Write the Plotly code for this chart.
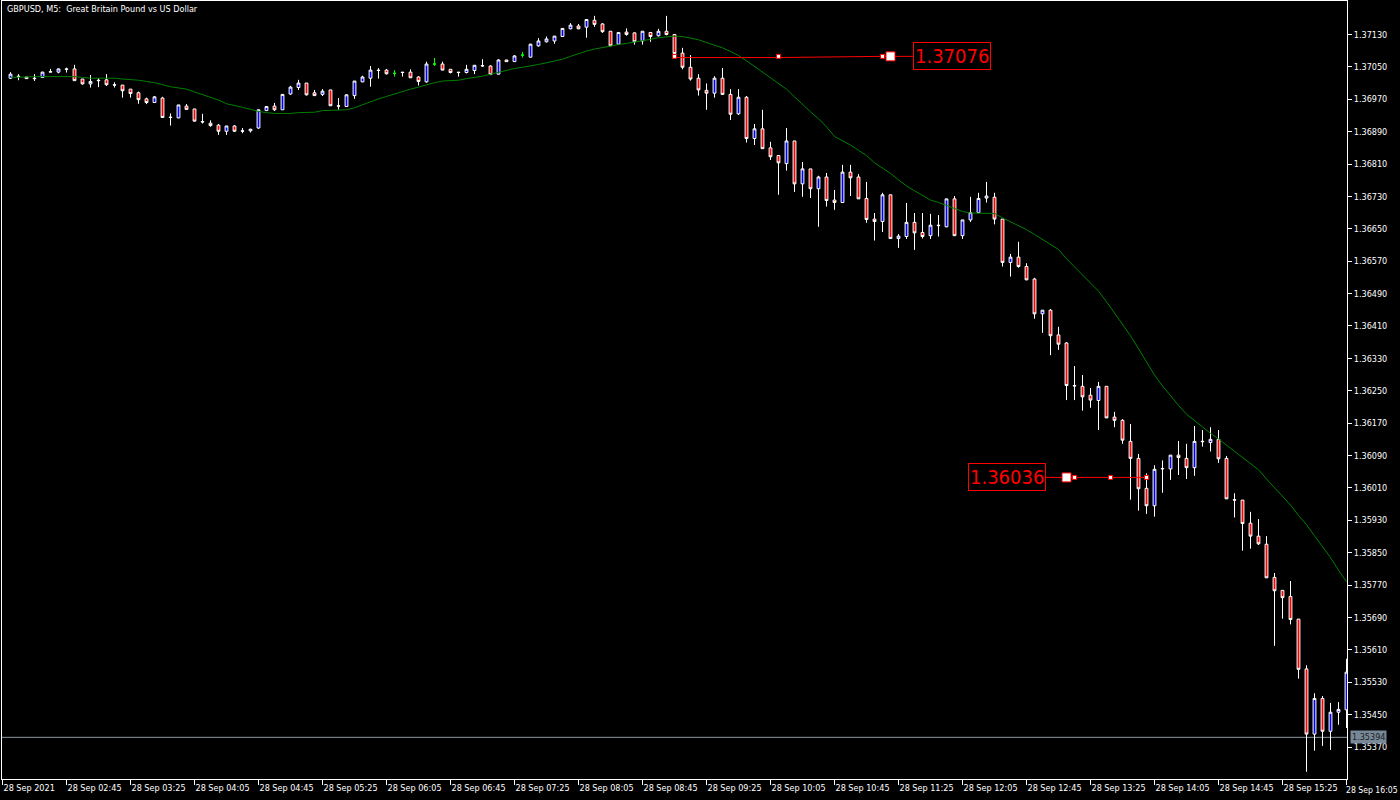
import plotly.graph_objects as go

# ---------------- data (GBPUSD M5, 28 Sep 2021, 02:10 .. 16:05) ----------------
opens = [1.37022,1.37027,1.37025,1.37022,1.37024,1.37037,1.37037,1.37045,1.37045,1.37020,
         1.37008,1.37017,1.37018,1.37006,1.37005,1.36995,1.36986,1.36971,1.36962,1.36973,
         1.36926,1.36924,1.36953,1.36946,1.36915,1.36911,1.36906,1.36891,1.36904,1.36891,
         1.36892,1.36899,1.36942,1.36953,1.36944,1.36983,1.36999,1.37010,1.36986,1.36982,
         1.36993,1.36954,1.36952,1.36979,1.37013,1.37022,1.37042,1.37042,1.37034,1.37037,
         1.37037,1.37025,1.37013,1.37057,1.37057,1.37044,1.37037,1.37036,1.37041,1.37052,
         1.37052,1.37032,1.37067,1.37063,1.37079,1.37074,1.37102,1.37112,1.37114,1.37125,
         1.37144,1.37151,1.37148,1.37165,1.37156,1.37138,1.37106,1.37136,1.37134,1.37114,
         1.37135,1.37127,1.37138,1.37130,1.37084,1.37049,1.37022,1.36992,1.36985,1.37022,
         1.36982,1.36934,1.36975,1.36873,1.36897,1.36850,1.36831,1.36811,1.36867,1.36761,
         1.36798,1.36749,1.36778,1.36721,1.36715,1.36790,1.36778,1.36725,1.36674,1.36668,
         1.36734,1.36626,1.36631,1.36666,1.36641,1.36633,1.36659,1.36655,1.36724,1.36633,
         1.36672,1.36690,1.36726,1.36728,1.36674,1.36567,1.36580,1.36557,1.36526,1.36440,
         1.36449,1.36388,1.36368,1.36263,1.36261,1.36239,1.36226,1.36261,1.36185,1.36177,
         1.36125,1.36083,1.36009,1.35966,1.36057,1.36057,1.36091,1.36083,1.36060,1.36124,
         1.36122,1.36130,1.36083,1.35981,1.35980,1.35923,1.35891,1.35871,1.35789,1.35757,
         1.35742,1.35686,1.35563,1.35402,1.35490,1.35409,1.35456,1.35462]
highs = [1.37037,1.37032,1.37025,1.37032,1.37038,1.37045,1.37046,1.37048,1.37055,1.37020,
         1.37030,1.37022,1.37032,1.37012,1.37005,1.36995,1.36989,1.36974,1.36978,1.36976,
         1.36935,1.36956,1.36958,1.36946,1.36934,1.36918,1.36909,1.36904,1.36906,1.36899,
         1.36897,1.36944,1.36953,1.36961,1.36983,1.37003,1.37018,1.37010,1.36993,1.36995,
         1.36993,1.36973,1.36982,1.37015,1.37028,1.37052,1.37047,1.37045,1.37042,1.37037,
         1.37044,1.37027,1.37063,1.37072,1.37063,1.37044,1.37037,1.37055,1.37054,1.37069,
         1.37054,1.37069,1.37067,1.37079,1.37087,1.37107,1.37121,1.37125,1.37126,1.37145,
         1.37158,1.37156,1.37167,1.37176,1.37158,1.37138,1.37135,1.37145,1.37135,1.37138,
         1.37135,1.37144,1.37176,1.37130,1.37097,1.37079,1.37032,1.37009,1.37027,1.37047,
         1.36995,1.36995,1.36978,1.36909,1.36944,1.36865,1.36832,1.36899,1.36867,1.36815,
         1.36798,1.36781,1.36788,1.36746,1.36808,1.36808,1.36785,1.36766,1.36689,1.36739,
         1.36734,1.36637,1.36714,1.36689,1.36689,1.36687,1.36684,1.36724,1.36731,1.36672,
         1.36729,1.36739,1.36766,1.36739,1.36674,1.36588,1.36618,1.36565,1.36529,1.36449,
         1.36452,1.36408,1.36370,1.36311,1.36289,1.36257,1.36272,1.36261,1.36198,1.36180,
         1.36168,1.36094,1.36046,1.36066,1.36078,1.36091,1.36126,1.36119,1.36163,1.36153,
         1.36160,1.36153,1.36089,1.35997,1.35980,1.35951,1.35933,1.35891,1.35800,1.35757,
         1.35780,1.35686,1.35572,1.35503,1.35496,1.35479,1.35481,1.35588]
lows = [1.37020,1.37017,1.37020,1.37015,1.37024,1.37037,1.37034,1.37036,1.37016,1.37006,
        1.36999,1.37000,1.37003,1.36999,1.36974,1.36974,1.36959,1.36958,1.36962,1.36924,
        1.36905,1.36923,1.36944,1.36915,1.36910,1.36902,1.36882,1.36882,1.36889,1.36886,
        1.36888,1.36897,1.36941,1.36941,1.36944,1.36981,1.36993,1.36979,1.36978,1.36978,
        1.36954,1.36944,1.36951,1.36971,1.37012,1.37001,1.37021,1.37031,1.37026,1.37026,
        1.37023,1.37004,1.37011,1.37052,1.37042,1.37034,1.37026,1.37034,1.37032,1.37050,
        1.37030,1.37031,1.37063,1.37062,1.37073,1.37073,1.37100,1.37110,1.37107,1.37125,
        1.37143,1.37143,1.37122,1.37149,1.37134,1.37101,1.37105,1.37127,1.37105,1.37105,
        1.37112,1.37125,1.37128,1.37083,1.37044,1.37016,1.36979,1.36944,1.36974,1.36982,
        1.36919,1.36931,1.36863,1.36857,1.36848,1.36820,1.36734,1.36794,1.36741,1.36729,
        1.36726,1.36655,1.36705,1.36697,1.36715,1.36731,1.36724,1.36665,1.36621,1.36642,
        1.36626,1.36603,1.36625,1.36598,1.36626,1.36625,1.36631,1.36654,1.36633,1.36625,
        1.36667,1.36690,1.36715,1.36661,1.36557,1.36532,1.36554,1.36523,1.36428,1.36393,
        1.36338,1.36351,1.36227,1.36227,1.36201,1.36208,1.36153,1.36183,1.36160,1.36119,
        1.35981,1.35954,1.35946,1.35939,1.35998,1.36030,1.36042,1.36032,1.36040,1.36112,
        1.36100,1.36072,1.35983,1.35937,1.35855,1.35860,1.35869,1.35788,1.35620,1.35687,
        1.35673,1.35539,1.35309,1.35361,1.35373,1.35363,1.35425,1.35417]
closes = [1.37032,1.37026,1.37021,1.37021,1.37037,1.37038,1.37045,1.37044,1.37016,1.37008,
          1.37014,1.37016,1.37006,1.37005,1.36991,1.36984,1.36969,1.36962,1.36976,1.36925,
          1.36925,1.36956,1.36945,1.36916,1.36914,1.36905,1.36891,1.36904,1.36891,1.36892,
          1.36896,1.36944,1.36952,1.36944,1.36982,1.37000,1.37010,1.36981,1.36979,1.36990,
          1.36954,1.36953,1.36981,1.37015,1.37025,1.37042,1.37041,1.37033,1.37034,1.37036,
          1.37023,1.37014,1.37057,1.37057,1.37042,1.37036,1.37036,1.37044,1.37054,1.37053,
          1.37031,1.37067,1.37063,1.37077,1.37079,1.37106,1.37114,1.37119,1.37126,1.37145,
          1.37153,1.37144,1.37167,1.37155,1.37137,1.37102,1.37135,1.37130,1.37112,1.37138,
          1.37125,1.37138,1.37130,1.37083,1.37049,1.37020,1.36993,1.36985,1.37022,1.36982,
          1.36933,1.36975,1.36873,1.36897,1.36848,1.36828,1.36813,1.36867,1.36761,1.36798,
          1.36749,1.36778,1.36720,1.36715,1.36790,1.36776,1.36724,1.36673,1.36668,1.36734,
          1.36626,1.36632,1.36666,1.36640,1.36631,1.36659,1.36658,1.36724,1.36633,1.36672,
          1.36690,1.36725,1.36731,1.36674,1.36567,1.36580,1.36557,1.36524,1.36440,1.36449,
          1.36386,1.36365,1.36263,1.36262,1.36235,1.36227,1.36261,1.36183,1.36177,1.36128,
          1.36083,1.36008,1.35966,1.36056,1.36058,1.36091,1.36085,1.36060,1.36125,1.36125,
          1.36130,1.36082,1.35983,1.35980,1.35922,1.35891,1.35872,1.35788,1.35756,1.35739,
          1.35685,1.35562,1.35402,1.35490,1.35409,1.35456,1.35463,1.35555]
ma_values = [1.37024,1.37024,1.37025,1.37026,1.37026,1.37026,1.37027,1.37027,1.37026,1.37024,
             1.37022,1.37022,1.37022,1.37022,1.37020,1.37019,1.37017,1.37014,1.37011,1.37006,
             1.37001,1.36998,1.36995,1.36988,1.36981,1.36975,1.36968,1.36959,1.36955,1.36950,
             1.36945,1.36940,1.36937,1.36935,1.36935,1.36935,1.36937,1.36938,1.36938,1.36942,
             1.36943,1.36943,1.36944,1.36949,1.36957,1.36964,1.36971,1.36977,1.36983,1.36990,
             1.36995,1.37000,1.37006,1.37011,1.37015,1.37016,1.37017,1.37021,1.37024,1.37027,
             1.37032,1.37037,1.37042,1.37046,1.37049,1.37052,1.37056,1.37060,1.37064,1.37069,
             1.37076,1.37083,1.37089,1.37094,1.37098,1.37102,1.37105,1.37108,1.37111,1.37114,
             1.37118,1.37122,1.37124,1.37126,1.37125,1.37121,1.37117,1.37110,1.37103,1.37097,
             1.37088,1.37078,1.37065,1.37051,1.37036,1.37022,1.37008,1.36995,1.36976,1.36957,
             1.36939,1.36922,1.36902,1.36878,1.36868,1.36857,1.36844,1.36831,1.36813,1.36800,
             1.36787,1.36771,1.36756,1.36744,1.36732,1.36721,1.36715,1.36708,1.36700,1.36693,
             1.36689,1.36689,1.36689,1.36688,1.36677,1.36668,1.36658,1.36648,1.36636,1.36624,
             1.36612,1.36599,1.36576,1.36556,1.36538,1.36518,1.36496,1.36470,1.36443,1.36416,
             1.36386,1.36354,1.36320,1.36289,1.36262,1.36237,1.36214,1.36192,1.36176,1.36160,
             1.36145,1.36131,1.36116,1.36102,1.36087,1.36072,1.36055,1.36032,1.36011,1.35989,
             1.35968,1.35942,1.35919,1.35892,1.35866,1.35838,1.35807,1.35778]

x_tick_bars = [-1, 7, 15, 23, 31, 39, 47, 55, 63, 71, 79, 87, 95, 103, 111, 119, 127, 135, 143, 151, 159, 167]
x_tick_labels = ["28 Sep 2021", "28 Sep 02:45", "28 Sep 03:25", "28 Sep 04:05", "28 Sep 04:45",
                 "28 Sep 05:25", "28 Sep 06:05", "28 Sep 06:45", "28 Sep 07:25", "28 Sep 08:05",
                 "28 Sep 08:45", "28 Sep 09:25", "28 Sep 10:05", "28 Sep 10:45", "28 Sep 11:25",
                 "28 Sep 12:05", "28 Sep 12:45", "28 Sep 13:25", "28 Sep 14:05", "28 Sep 14:45",
                 "28 Sep 15:25", "28 Sep 16:05"]
y_tick_prices = [1.37130, 1.37050, 1.36970, 1.36890, 1.36810, 1.36730, 1.36650, 1.36570,
                 1.36490, 1.36410, 1.36330, 1.36250, 1.36170, 1.36090, 1.36010, 1.35930,
                 1.35850, 1.35770, 1.35690, 1.35610, 1.35530, 1.35450, 1.35370]
bid_price = 1.35394
# drawn objects: trend lines (bar index, price) and price labels
upper_line_bars = [83, 96, 109, 110, 112.75]
upper_line_prices = [1.37073, 1.37073, 1.37076, 1.37076, 1.37076]
upper_small_bars = [83, 96, 109]
upper_big_bar = 110
upper_label = 1.37076
upper_label_bar = 112.75
lower_line_bars = [129.4, 132, 133, 137.5, 142]
lower_line_prices = [1.36036, 1.36036, 1.36036, 1.36036, 1.36036]
lower_small_bars = [133, 137.5, 142]
lower_big_bar = 132
lower_label = 1.36036
lower_label_bar = 129.4

# ---------------- figure ----------------
bars = list(range(len(closes)))
flat = [i for i in bars if opens[i] == closes[i]]
body = [i for i in bars if opens[i] != closes[i]]

AX_FONT = dict(family="Tahoma, 'DejaVu Sans Condensed', 'Liberation Sans', sans-serif", size=9, color="#ffffff")
LBL_FONT = dict(family="'Liberation Sans Narrow', 'Arial Narrow', 'DejaVu Sans Condensed', sans-serif", size=20, color="#ff0000")

fig = go.Figure()
fig.add_trace(go.Scatter(x=bars, y=ma_values, mode="lines",
                         line=dict(color="#008000", width=1), hoverinfo="skip", showlegend=False))
fig.add_trace(go.Candlestick(
    x=[bars[i] for i in body], open=[opens[i] for i in body], high=[highs[i] for i in body],
    low=[lows[i] for i in body], close=[closes[i] for i in body],
    increasing=dict(line=dict(color="#ffffff", width=1), fillcolor="#0000ff"),
    decreasing=dict(line=dict(color="#ffffff", width=1), fillcolor="#ff0000"),
    whiskerwidth=0, showlegend=False))
fig.add_trace(go.Candlestick(
    x=[bars[i] for i in flat], open=[opens[i] for i in flat], high=[highs[i] for i in flat],
    low=[lows[i] for i in flat], close=[closes[i] for i in flat],
    increasing=dict(line=dict(color="#00ff00", width=1), fillcolor="#00ff00"),
    decreasing=dict(line=dict(color="#00ff00", width=1), fillcolor="#00ff00"),
    whiskerwidth=0, showlegend=False))

# trend lines with anchor points
for lb, lp, sb, bb in [(upper_line_bars, upper_line_prices, upper_small_bars, upper_big_bar),
                       (lower_line_bars, lower_line_prices, lower_small_bars, lower_big_bar)]:
    fig.add_trace(go.Scatter(x=lb, y=lp, mode="lines", line=dict(color="#ff0000", width=1),
                             hoverinfo="skip", showlegend=False))
    fig.add_trace(go.Scatter(x=sb, y=[lp[-1]] * len(sb), mode="markers",
                             marker=dict(symbol="square", size=4, color="#ffffff",
                                         line=dict(color="#ff0000", width=1)),
                             hoverinfo="skip", showlegend=False))
    fig.add_trace(go.Scatter(x=[bb], y=[lp[-1]], mode="markers",
                             marker=dict(symbol="square", size=9, color="#ffffff",
                                         line=dict(color="#ff0000", width=1)),
                             hoverinfo="skip", showlegend=False))

fig.add_annotation(x=upper_label_bar, y=upper_label, text=f"{upper_label:.5f}", showarrow=False,
                   xanchor="left", yanchor="middle", font=LBL_FONT, bgcolor="#000000",
                   bordercolor="#ff0000", borderwidth=1, borderpad=1)
fig.add_annotation(x=lower_label_bar, y=lower_label, text=f"{lower_label:.5f}", showarrow=False,
                   xanchor="right", yanchor="middle", font=LBL_FONT, bgcolor="#000000",
                   bordercolor="#ff0000", borderwidth=1, borderpad=1)

# bid line
fig.add_shape(type="line", xref="paper", x0=0, x1=1, yref="y", y0=bid_price, y1=bid_price,
              line=dict(color="#8c96a0", width=1), layer="below")
fig.add_annotation(xref="paper", x=1, xshift=3, y=bid_price, text=f"{bid_price:.5f}", showarrow=False,
                   xanchor="left", yanchor="middle", font=dict(AX_FONT, color="#1e1e1e"),
                   bgcolor="#778899", borderpad=1)

# last time label, kept inside the right edge of the figure
fig.add_annotation(xref="paper", x=1, xshift=53, yref="paper", y=0, yshift=-4,
                   xanchor="right", yanchor="top", showarrow=False,
                   text=x_tick_labels[-1], font=dict(AX_FONT, size=8.6))

# title
fig.add_annotation(xref="paper", yref="paper", x=0, y=1, xshift=3, yshift=-1,
                   xanchor="left", yanchor="top", showarrow=False,
                   text="GBPUSD, M5:  Great Britain Pound vs US Dollar", font=AX_FONT)

y_top = 1.372127
y_bot = 1.352911
fig.update_layout(
    width=1400, height=800,
    margin=dict(l=2, r=53, t=1, b=21, autoexpand=False),
    paper_bgcolor="#000000", plot_bgcolor="#000000",
    boxgap=0.5,
    showlegend=False,
    xaxis=dict(range=[-1.0625, 167.0625], tickvals=x_tick_bars,
               ticktext=x_tick_labels[:-1] + [""],
               ticks="outside", ticklen=5, tickcolor="#ffffff", tickwidth=1,
               ticklabelposition="outside right", tickfont=AX_FONT, automargin=False,
               showgrid=False, zeroline=False, showline=True, linecolor="#ffffff",
               linewidth=1, mirror=True, rangeslider=dict(visible=False), fixedrange=True),
    yaxis=dict(range=[y_bot, y_top], side="right", tickvals=y_tick_prices,
               ticktext=[f"{v:.5f}" for v in y_tick_prices], automargin=False,
               ticks="outside", ticklen=4, tickcolor="#ffffff", tickwidth=1, tickfont=AX_FONT,
               showgrid=False, zeroline=False, showline=True, linecolor="#ffffff",
               linewidth=1, mirror=True, fixedrange=True),
)
fig.write_html("out.html", config={"displayModeBar": False},
               post_script="document.body.style.margin='0';document.body.style.overflow='hidden';")
